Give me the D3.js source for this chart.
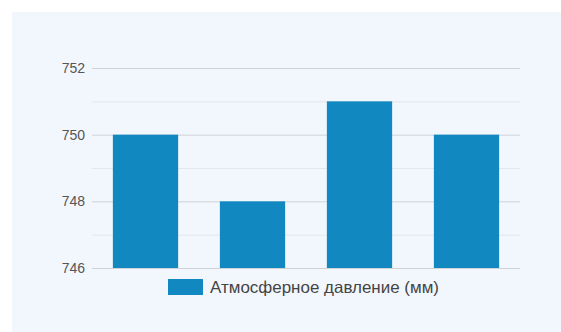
<!DOCTYPE html>
<html>
<head>
<meta charset="utf-8">
<script src="https://cdn.jsdelivr.net/npm/d3@7"></script>
<style>
  body { margin:0; background:#fff; }
  text { font-family: Arial, "Liberation Sans", sans-serif; }
</style>
</head>
<body>
<svg id="chart" width="561" height="332"></svg>
<script>
const categories = ['1', '2', '3', '4'];
const pressure = [750, 748, 751, 750];
const majorTicks = [746, 748, 750, 752];
const minorTicks = [747, 749, 751];
const seriesName = 'Атмосферное давление (мм)';

const svg = d3.select('#chart');
const W = 561, H = 332;
const margin = { left: 92, right: 41, top: 68, bottom: 64 };

svg.append('rect')
    .attr('x', 12).attr('y', 12)
    .attr('width', W - 12).attr('height', H - 12)
    .attr('fill', '#f2f7fd');

const x = d3.scaleBand()
    .domain(categories)
    .range([margin.left, W - margin.right])
    .paddingInner(0.39).paddingOuter(0.195);

const y = d3.scaleLinear()
    .domain([746, 752])
    .range([H - margin.bottom, margin.top]);

// minor grid
svg.append('g').selectAll('line')
    .data(minorTicks).enter().append('line')
    .attr('x1', margin.left).attr('x2', W - margin.right)
    .attr('y1', d => y(d) + 0.5).attr('y2', d => y(d) + 0.5)
    .attr('stroke', '#e3e6ea');

// major grid + labels
const yAxis = svg.append('g')
    .attr('transform', `translate(${margin.left},0)`)
    .call(d3.axisLeft(y).tickValues(majorTicks).tickFormat(d3.format('d'))
        .tickSize(-(W - margin.left - margin.right)).tickPadding(7));
yAxis.select('.domain').remove();
yAxis.selectAll('line').attr('stroke', '#cfd3d8');
yAxis.selectAll('text').attr('fill', '#555').attr('font-size', 14);

svg.append('g').selectAll('rect')
    .data(pressure).enter().append('rect')
    .attr('x', (d, i) => x(categories[i]))
    .attr('width', x.bandwidth())
    .attr('y', d => y(d))
    .attr('height', d => y(746) - y(d))
    .attr('fill', '#1288c0');

const legend = svg.append('g').attr('transform', 'translate(168,279)');
legend.append('rect').attr('width', 35).attr('height', 16).attr('fill', '#1288c0');
legend.append('text').attr('x', 42).attr('y', 14)
    .attr('font-size', 16.5).attr('fill', '#444')
    .attr('textLength', 229).attr('lengthAdjust', 'spacingAndGlyphs')
    .text(seriesName);
</script>
</body>
</html>
